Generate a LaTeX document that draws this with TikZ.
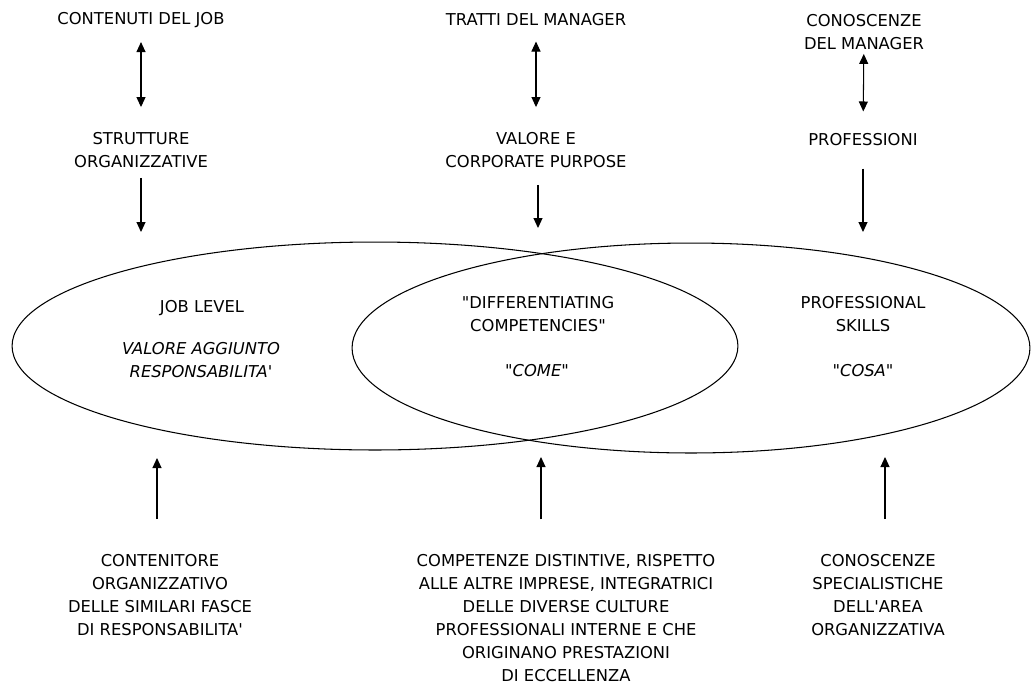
\documentclass[tikz,border=0pt]{standalone}
\usepackage{fontspec}
\setmainfont{DejaVu Sans}
\usetikzlibrary{arrows.meta, positioning, shapes.geometric}

\begin{document}
\begin{tikzpicture}[x=0.02cm, y=-0.02cm]
	\tikzstyle{Label} = [inner sep=0pt, align=center, font=\fontsize{9.3}{13}\selectfont]
	\tikzstyle{Slant} = [Label, font=\fontsize{9.3}{13}\selectfont\itshape]
	\tikzstyle{Oval} = [ellipse, draw=black, line width=0.6pt, inner sep=0pt, outer sep=0pt]
	\tikzstyle{twoway} = [line width=0.6pt, {Triangle[length=2mm,width=1.8mm]}-{Triangle[length=2mm,width=1.8mm]}]
	\tikzstyle{arrow} = [line width=0.6pt, -{Triangle[length=2mm,width=1.8mm]}]

	\useasboundingbox (0,0) rectangle (1031,684);

	\node (joboval) [Oval, minimum width=14.52cm, minimum height=4.16cm] at (375,346) {};
	\node (skilloval) [Oval, minimum width=13.56cm, minimum height=4.2cm] at (691,348) {};

	\node (contenuti) [Label] at (141,20) {CONTENUTI DEL JOB};
	\node (strutture) [Label] at (141,150) {STRUTTURE\\ORGANIZZATIVE};
	\node (tratti) [Label] at (536,20) {TRATTI DEL MANAGER};
	\node (valore) [Label] at (536,150) {VALORE E\\CORPORATE PURPOSE};
	\node (conoscenze) [Label] at (864,32) {CONOSCENZE\\DEL MANAGER};
	\node (professioni) [Label] at (863,140) {PROFESSIONI};

	\node (joblevel) [Label] at (202,308) {JOB LEVEL};
	\node (aggiunto) [Slant] at (201,360) {VALORE AGGIUNTO\\RESPONSABILITA\textquotesingle};
	\node (differ) [Label] at (538,314) {\textquotedbl DIFFERENTIATING\\COMPETENCIES\textquotedbl};
	\node (come) [Slant] at (537,371) {\textquotedbl COME\textquotedbl};
	\node (professional) [Label] at (863,314) {PROFESSIONAL\\SKILLS};
	\node (cosa) [Slant] at (863,371) {\textquotedbl COSA\textquotedbl};

	\node (contenitore) [Label] at (160,595) {CONTENITORE\\ORGANIZZATIVO\\DELLE SIMILARI FASCE\\DI RESPONSABILITA\textquotesingle};
	\node (distintive) [Label] at (566,618) {COMPETENZE DISTINTIVE, RISPETTO\\ALLE ALTRE IMPRESE, INTEGRATRICI\\DELLE DIVERSE CULTURE\\PROFESSIONALI INTERNE E CHE\\ORIGINANO PRESTAZIONI\\DI ECCELLENZA};
	\node (specialist) [Label] at (878,595) {CONOSCENZE\\SPECIALISTICHE\\DELL\textquotesingle AREA\\ORGANIZZATIVA};

	\coordinate (jobin) at (141,232);
	\coordinate (valin) at (538,228);
	\coordinate (profin) at (863,232);
	\coordinate (jobup) at (157,458);
	\coordinate (compup) at (541,457);
	\coordinate (specup) at (885,457);

	\draw [twoway, shorten <=0.28cm, shorten >=0.5cm] (contenuti) -- (strutture);
	\draw [twoway, shorten <=0.3cm, shorten >=0.5cm] (tratti) -- (valore);
	\draw [twoway, shorten <=0.08cm, shorten >=0.44cm] (conoscenze) -- (professioni);

	\draw [arrow, shorten <=0.2cm] (strutture.south) -- (jobin);
	\draw [arrow, shorten <=0.34cm] (valore.south -| valin) -- (valin);
	\draw [arrow, shorten <=0.44cm] (professioni.south) -- (profin);

	\draw [arrow, shorten <=0.7cm] (contenitore.north -| jobup) -- (jobup);
	\draw [arrow, shorten <=0.7cm] (distintive.north -| compup) -- (compup);
	\draw [arrow, shorten <=0.7cm] (specialist.north -| specup) -- (specup);
\end{tikzpicture}
\end{document}
